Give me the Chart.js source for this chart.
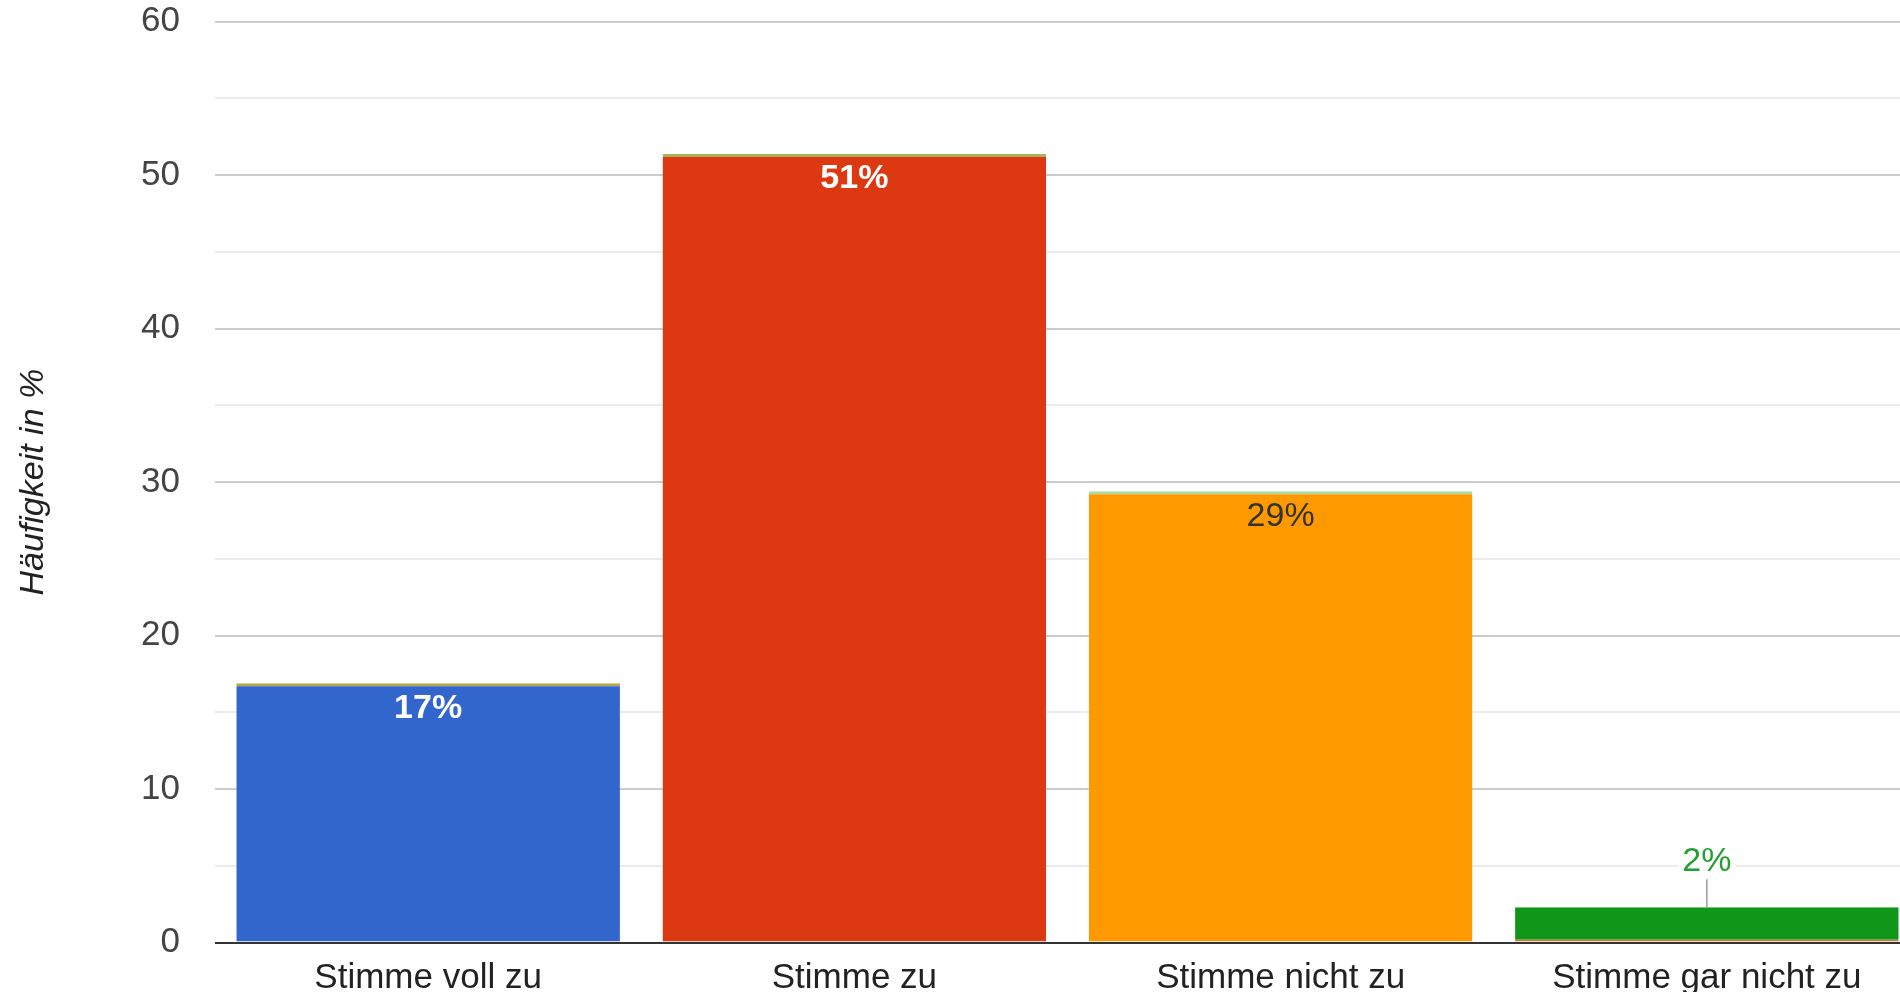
<!DOCTYPE html>
<html>
<head>
<meta charset="utf-8">
<script src="https://cdn.jsdelivr.net/npm/chart.js@4"></script>
<style>
  body { margin: 0; background: #fff; overflow: hidden; }
  .chart-box { width: 1920px; height: 1007px; margin-top: -15px; }
</style>
</head>
<body>
<div class="chart-box"><canvas id="barChart"></canvas></div>
<script>
// Antworten und Anteile in %
var categories = ['Stimme voll zu', 'Stimme zu', 'Stimme nicht zu', 'Stimme gar nicht zu'];
var shares = [16.9, 51.4, 29.4, 2.3];
var yTicks = [0, 10, 20, 30, 40, 50, 60];

var barColors = ['#3366cc', '#dc3912', '#ff9900', '#109618'];
var edgeColors = ['#b3a84a', '#9dba5c', '#a9dba6', '#c27a36'];
var labelColors = ['#ffffff', '#ffffff', '#333333', '#22a033'];
var labelWeights = ['bold', 'bold', 'normal', 'normal'];

var FONT = '"Liberation Sans", Arial, sans-serif';

// Prozent-Labels: innen bei hohen Balken, sonst oben mit Linie
var valueLabels = {
    id: 'valueLabels',
    afterDatasetsDraw: function (chart) {
        var ctx = chart.ctx;
        var meta = chart.getDatasetMeta(0);
        meta.data.forEach(function (bar, i) {
            var text = Math.round(shares[i]) + '%';
            ctx.save();
            ctx.font = labelWeights[i] + ' 34px ' + FONT;
            ctx.textAlign = 'center';
            ctx.textBaseline = 'middle';
            if (bar.base - bar.y > 60) {
                ctx.fillStyle = labelColors[i];
                ctx.fillText(text, bar.x, bar.y + 25);
            } else {
                var w = ctx.measureText(text).width;
                ctx.fillStyle = '#ffffff';
                ctx.fillRect(bar.x - w / 2 - 4, bar.y - 64, w + 8, 36);
                ctx.strokeStyle = '#9a9a9a';
                ctx.lineWidth = 1.5;
                ctx.beginPath();
                ctx.moveTo(bar.x, bar.y);
                ctx.lineTo(bar.x, bar.y - 28);
                ctx.stroke();
                ctx.fillStyle = labelColors[i];
                ctx.fillText(text, bar.x, bar.y - 46);
            }
            ctx.restore();
        });
    }
};

var ctx = document.getElementById('barChart').getContext('2d');
var myChart = new Chart(ctx, {
    type: 'bar',
    data: {
        labels: categories,
        datasets: [{
            data: shares,
            backgroundColor: barColors,
            borderColor: edgeColors,
            borderSkipped: false,
            borderWidth: function (c) {
                return c.dataIndex === 3 ? { top: 0, bottom: 2, left: 0, right: 0 } : { top: 3, bottom: 0, left: 0, right: 0 };
            },
            categoryPercentage: 1,
            barPercentage: 0.9
        }]
    },
    options: {
        responsive: true,
        maintainAspectRatio: false,
        animation: false,
        layout: { padding: 0 },
        plugins: {
            legend: { display: false },
            tooltip: { enabled: false }
        },
        scales: {
            x: {
                grid: { display: false },
                border: { display: false },
                ticks: {
                    color: '#222',
                    font: { family: FONT, size: 35 },
                    padding: 7,
                    maxRotation: 0,
                    autoSkip: false
                },
                afterFit: function (scale) { scale.height = 49.5; }
            },
            y: {
                min: yTicks[0],
                max: yTicks[yTicks.length - 1],
                border: { display: false },
                grid: {
                    drawTicks: false,
                    lineWidth: 2,
                    color: function (c) {
                        var v = c.tick.value;
                        if (v === 0) return '#333333';
                        return yTicks.indexOf(v) >= 0 ? '#cccccc' : '#ebebeb';
                    }
                },
                ticks: {
                    stepSize: 5,
                    autoSkip: false,
                    padding: 35,
                    color: '#444',
                    font: { family: FONT, size: 35, lineHeight: 0.1 },
                    callback: function (v) { return yTicks.indexOf(v) >= 0 ? v : ''; }
                },
                title: {
                    display: true,
                    text: 'Häufigkeit in %',
                    color: '#222',
                    padding: { top: 13, bottom: 0 },
                    font: { family: FONT, size: 34, style: 'italic' }
                },
                afterFit: function (scale) { scale.width = 215; }
            }
        }
    },
    plugins: [valueLabels]
});
</script>
</body>
</html>
